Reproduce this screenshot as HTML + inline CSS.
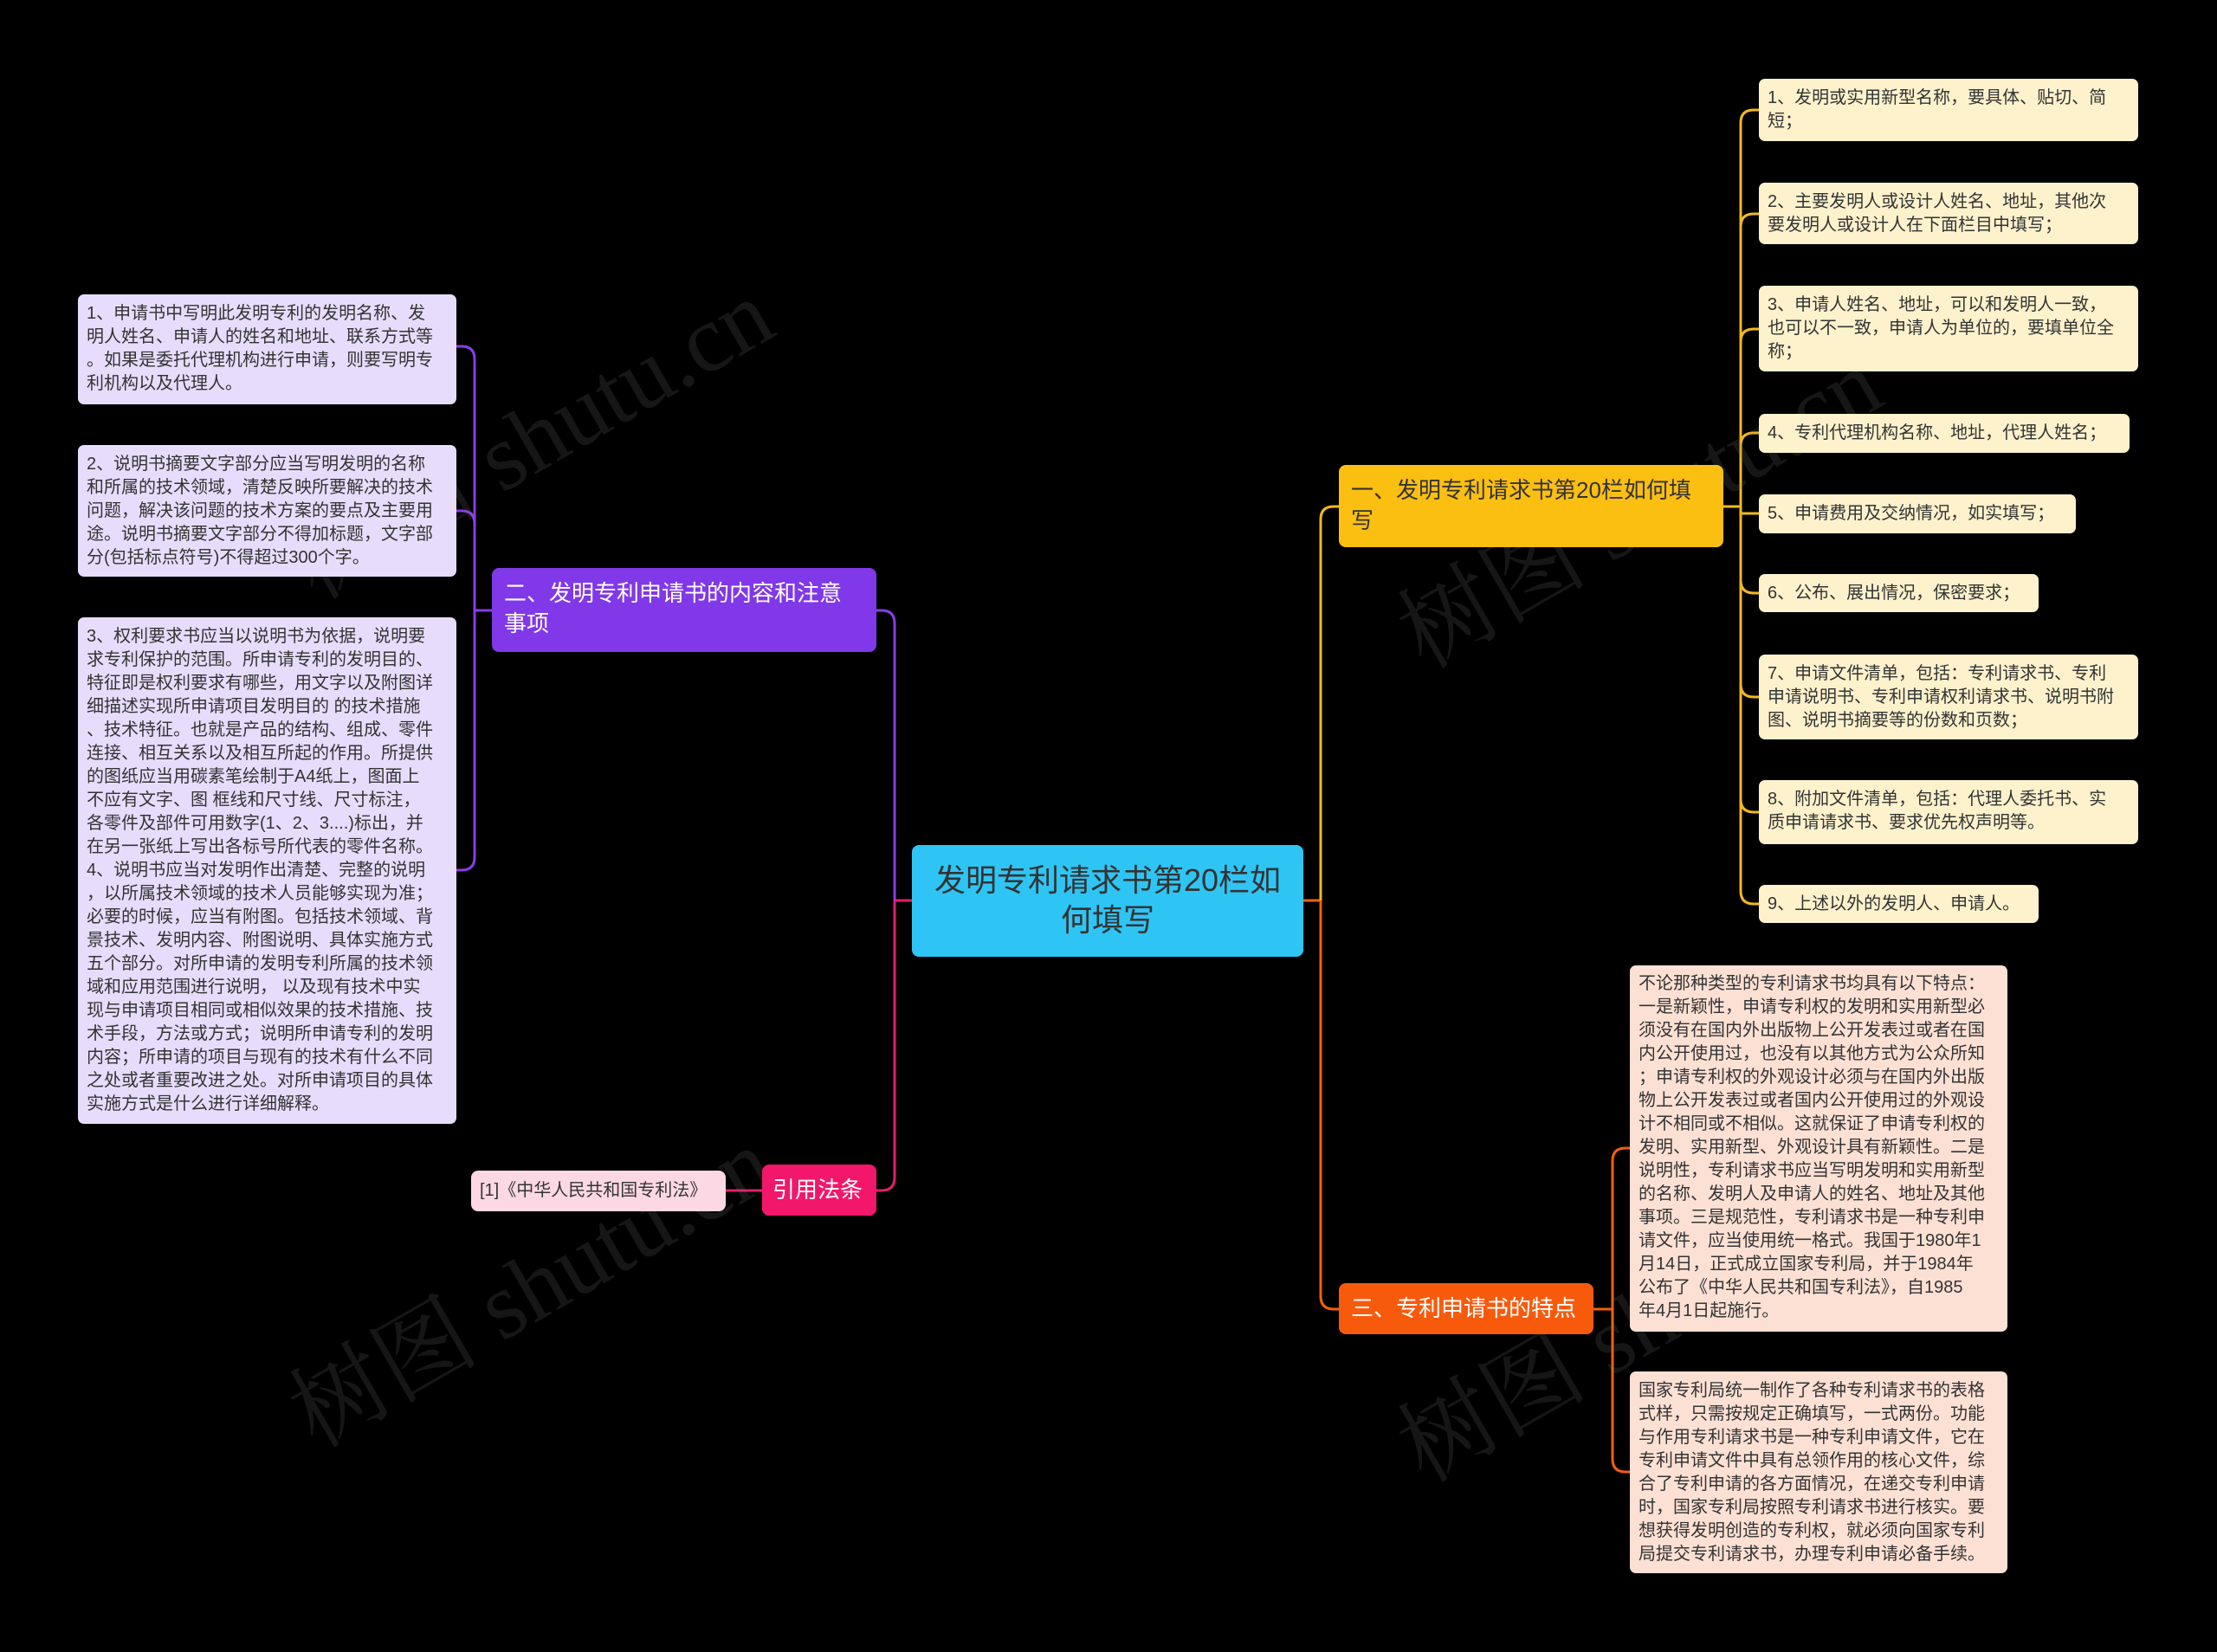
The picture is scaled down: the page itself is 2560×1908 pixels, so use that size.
<!DOCTYPE html>
<html><head><meta charset="utf-8"><style>
body{margin:0;width:2560px;height:1908px;background:#000;position:relative;overflow:hidden;font-family:"Liberation Sans","Noto Sans CJK SC",sans-serif}
.b{position:absolute;box-sizing:border-box;border-radius:7px;color:#333;font-size:20px;line-height:27px;padding:10px 10px;white-space:nowrap}
.y{background:#fef2cc}.l{background:#e8dcfc}.p{background:#fde0d4}
.m{position:absolute;box-sizing:border-box;border-radius:8px;white-space:nowrap}
svg{position:absolute;left:0;top:0}
.wm{position:absolute;color:rgba(120,120,120,0.18);font-size:110px;font-family:"Liberation Serif","Noto Serif CJK SC",serif;transform:rotate(-30deg);white-space:nowrap}
</style></head><body>
<svg width="2560" height="1908" fill="none" stroke-width="3">
<!-- center to left -->
<path d="M1053 1040 H1033" stroke="#e0206a"/>
<path d="M1033 1040 V720 q0 -15 -15 -15 H1012" stroke="#8a3ce8"/>
<path d="M1033 1040 V1360 q0 15 -15 15 H1012" stroke="#e0206a"/>
<!-- center to right -->
<path d="M1505 1040 H1525" stroke="#f06010"/>
<path d="M1525 1040 V600 q0 -15 15 -15 H1546" stroke="#f2b820"/>
<path d="M1525 1040 V1497 q0 15 15 15 H1546" stroke="#f06010"/>
<!-- 二 children -->
<g stroke="#8a3ce8">
<path d="M568 705 H548"/>
<path d="M548 705 V415 q0 -15 -15 -15 H527"/>
<path d="M548 705 V605 q0 -15 -15 -15 H527"/>
<path d="M548 705 V990 q0 15 -15 15 H527"/>
</g>
<path d="M880 1375 H838" stroke="#e0206a"/>
<!-- 一 children -->
<g stroke="#f2b820">
<path d="M1990 585 H2010"/>
<path d="M2010 585 V142 q0 -15 15 -15 H2031"/>
<path d="M2010 585 V262 q0 -15 15 -15 H2031"/>
<path d="M2010 585 V395 q0 -15 15 -15 H2031"/>
<path d="M2010 585 V515 q0 -15 15 -15 H2031"/>
<path d="M2010 593 H2031"/>
<path d="M2010 585 V670 q0 15 15 15 H2031"/>
<path d="M2010 585 V790 q0 15 15 15 H2031"/>
<path d="M2010 585 V923 q0 15 15 15 H2031"/>
<path d="M2010 585 V1029 q0 15 15 15 H2031"/>
</g>
<!-- 三 children -->
<g stroke="#f06010">
<path d="M1840 1512 H1862"/>
<path d="M1862 1512 V1341 q0 -15 15 -15 H1882"/>
<path d="M1862 1512 V1685 q0 15 15 15 H1882"/>
</g>
</svg>

<div class="wm" style="left:300px;top:420px">树图 shutu.cn</div>
<div class="wm" style="left:300px;top:1400px">树图 shutu.cn</div>
<div class="wm" style="left:1580px;top:500px">树图 shutu.cn</div>
<div class="wm" style="left:1580px;top:1440px">树图 shutu.cn</div>

<div class="m" style="left:1053px;top:976px;width:452px;height:129px;background:#2ec5f5;color:#333;font-size:36px;line-height:46px;text-align:center;padding-top:18px">发明专利请求书第20栏如<br>何填写</div>
<div class="m" style="left:1546px;top:537px;width:444px;height:95px;background:#fbbf12;color:#333;font-size:26px;line-height:35px;padding:12px 14px">一、发明专利请求书第20栏如何填<br>写</div>
<div class="m" style="left:1546px;top:1482px;width:294px;height:59px;background:#f85a0c;color:#fff;font-size:26px;line-height:35px;padding:12px 14px">三、专利申请书的特点</div>
<div class="m" style="left:568px;top:656px;width:444px;height:97px;background:#8038e8;color:#fff;font-size:26px;line-height:35px;padding:12px 14px">二、发明专利申请书的内容和注意<br>事项</div>
<div class="m" style="left:880px;top:1345px;width:132px;height:59px;background:#f2176a;color:#fff;font-size:26px;line-height:35px;padding:12px 12px">引用法条</div>
<div class="m" style="left:544px;top:1352px;width:294px;height:47px;background:#fcd8e4;color:#333;font-size:20px;line-height:27px;padding:10px 10px">[1]《中华人民共和国专利法》</div>

<div class="b y" style="left:2031px;top:91px;width:438px;height:72px;padding-top:9px">1、发明或实用新型名称，要具体、贴切、简<br>短；</div>
<div class="b y" style="left:2031px;top:211px;width:438px;height:71px;padding-top:9px">2、主要发明人或设计人姓名、地址，其他次<br>要发明人或设计人在下面栏目中填写；</div>
<div class="b y" style="left:2031px;top:330px;width:438px;height:99px;padding-top:9px">3、申请人姓名、地址，可以和发明人一致，<br>也可以不一致，申请人为单位的，要填单位全<br>称；</div>
<div class="b y" style="left:2031px;top:478px;width:428px;height:45px;padding-top:9px">4、专利代理机构名称、地址，代理人姓名；</div>
<div class="b y" style="left:2031px;top:571px;width:366px;height:45px;padding-top:9px">5、申请费用及交纳情况，如实填写；</div>
<div class="b y" style="left:2031px;top:663px;width:323px;height:44px;padding-top:9px">6、公布、展出情况，保密要求；</div>
<div class="b y" style="left:2031px;top:756px;width:438px;height:98px;padding-top:9px">7、申请文件清单，包括：专利请求书、专利<br>申请说明书、专利申请权利请求书、说明书附<br>图、说明书摘要等的份数和页数；</div>
<div class="b y" style="left:2031px;top:901px;width:438px;height:74px;padding-top:9px">8、附加文件清单，包括：代理人委托书、实<br>质申请请求书、要求优先权声明等。</div>
<div class="b y" style="left:2031px;top:1022px;width:323px;height:44px;padding-top:9px">9、上述以外的发明人、申请人。</div>

<div class="b p" style="left:1882px;top:1115px;width:436px;height:423px;padding-top:8px">不论那种类型的专利请求书均具有以下特点：<br>一是新颖性，申请专利权的发明和实用新型必<br>须没有在国内外出版物上公开发表过或者在国<br>内公开使用过，也没有以其他方式为公众所知<br>；申请专利权的外观设计必须与在国内外出版<br>物上公开发表过或者国内公开使用过的外观设<br>计不相同或不相似。这就保证了申请专利权的<br>发明、实用新型、外观设计具有新颖性。二是<br>说明性，专利请求书应当写明发明和实用新型<br>的名称、发明人及申请人的姓名、地址及其他<br>事项。三是规范性，专利请求书是一种专利申<br>请文件，应当使用统一格式。我国于1980年1<br>月14日，正式成立国家专利局，并于1984年<br>公布了《中华人民共和国专利法》，自1985<br>年4月1日起施行。</div>
<div class="b p" style="left:1882px;top:1584px;width:436px;height:233px;padding-top:9px">国家专利局统一制作了各种专利请求书的表格<br>式样，只需按规定正确填写，一式两份。功能<br>与作用专利请求书是一种专利申请文件，它在<br>专利申请文件中具有总领作用的核心文件，综<br>合了专利申请的各方面情况，在递交专利申请<br>时，国家专利局按照专利请求书进行核实。要<br>想获得发明创造的专利权，就必须向国家专利<br>局提交专利请求书，办理专利申请必备手续。</div>

<div class="b l" style="left:90px;top:340px;width:437px;height:127px;padding-top:9px">1、申请书中写明此发明专利的发明名称、发<br>明人姓名、申请人的姓名和地址、联系方式等<br>。如果是委托代理机构进行申请，则要写明专<br>利机构以及代理人。</div>
<div class="b l" style="left:90px;top:514px;width:437px;height:152px;padding-top:9px">2、说明书摘要文字部分应当写明发明的名称<br>和所属的技术领域，清楚反映所要解决的技术<br>问题，解决该问题的技术方案的要点及主要用<br>途。说明书摘要文字部分不得加标题，文字部<br>分(包括标点符号)不得超过300个字。</div>
<div class="b l" style="left:90px;top:713px;width:437px;height:585px;padding-top:9px">3、权利要求书应当以说明书为依据，说明要<br>求专利保护的范围。所申请专利的发明目的、<br>特征即是权利要求有哪些，用文字以及附图详<br>细描述实现所申请项目发明目的 的技术措施<br>、技术特征。也就是产品的结构、组成、零件<br>连接、相互关系以及相互所起的作用。所提供<br>的图纸应当用碳素笔绘制于A4纸上，图面上<br>不应有文字、图 框线和尺寸线、尺寸标注，<br>各零件及部件可用数字(1、2、3....)标出，并<br>在另一张纸上写出各标号所代表的零件名称。<br>4、说明书应当对发明作出清楚、完整的说明<br>，以所属技术领域的技术人员能够实现为准；<br>必要的时候，应当有附图。包括技术领域、背<br>景技术、发明内容、附图说明、具体实施方式<br>五个部分。对所申请的发明专利所属的技术领<br>域和应用范围进行说明， 以及现有技术中实<br>现与申请项目相同或相似效果的技术措施、技<br>术手段，方法或方式；说明所申请专利的发明<br>内容；所申请的项目与现有的技术有什么不同<br>之处或者重要改进之处。对所申请项目的具体<br>实施方式是什么进行详细解释。</div>
</body></html>
